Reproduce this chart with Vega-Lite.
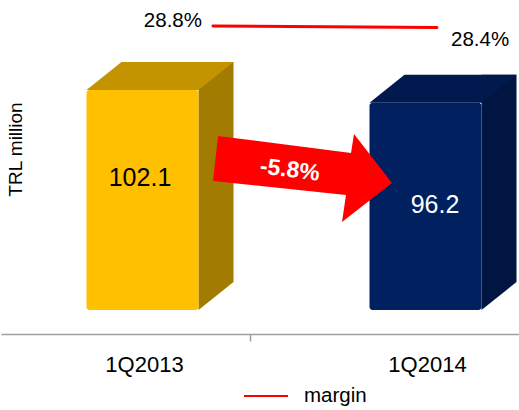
{
  "$schema": "https://vega.github.io/schema/vega-lite/v6.json",
  "width": 519,
  "height": 334,
  "autosize": {"type": "none"},
  "padding": {"left": 0, "top": 0, "right": 0, "bottom": 76},
  "background": "white",
  "config": {"view": {"stroke": null}, "font": "Liberation Sans"},
  "datasets": {
    "revenue": [
      {"quarter": "1Q2013", "revenue": 102.1},
      {"quarter": "1Q2014", "revenue": 96.2}
    ],
    "change": [
      {"quarter": "1Q2013", "revenue": 102.1, "label": "-5.8%"}
    ],
    "margin": [
      {"quarter": "1Q2013", "margin": 0.288, "series": "margin"},
      {"quarter": "1Q2014", "margin": 0.284, "series": "margin"}
    ]
  },
  "layer": [
    {
      "data": {"name": "revenue"},
      "encoding": {
        "x": {
          "field": "quarter", "type": "nominal",
          "scale": {"type": "band", "range": [1, 567], "paddingInner": 0, "paddingOuter": 0},
          "axis": {
            "title": null, "labelAngle": 0, "labelFontSize": 22, "labelColor": "#000000",
            "labelFont": "Liberation Sans", "labelPadding": 13, "labelOffset": -106,
            "tickOffset": 107.5, "tickSize": 7, "tickColor": "#A0A0A0",
            "domainColor": "#A0A0A0", "domainWidth": 1.5, "tickWidth": 1.5
          }
        },
        "y": {
          "field": "revenue", "type": "quantitative",
          "scale": {"domain": [-11.14, 143.87], "nice": false, "zero": false},
          "axis": {
            "title": "TRL million", "labels": false, "ticks": false, "domain": false, "grid": false,
            "titleX": 15, "titleY": 149, "titleAngle": -90, "titleAlign": "center",
            "titleBaseline": "middle", "titleFontSize": 19, "titleFontWeight": "normal",
            "titleColor": "#000000", "titleFont": "Liberation Sans"
          }
        }
      },
      "layer": [
        {
          "mark": {"type": "bar", "width": 35, "xOffset": 73.5, "yOffset": -28, "y2Offset": -28},
          "encoding": {
            "y2": {"datum": 0},
            "color": {"field": "quarter", "type": "nominal", "scale": {"domain": ["1Q2013", "1Q2014"], "range": ["#A27C00", "#00153F"]}, "legend": null}
          }
        },
        {
          "mark": {"type": "point", "shape": "M56,-28L91,-28L56,0Z", "size": 4, "filled": true, "opacity": 1, "strokeWidth": 0},
          "encoding": {
            "y": {"datum": 0, "type": "quantitative"},
            "color": {"field": "quarter", "type": "nominal", "scale": {"domain": ["1Q2013", "1Q2014"], "range": ["#A27C00", "#00153F"]}, "legend": null}
          }
        },
        {
          "mark": {"type": "point", "shape": "M-56,0L-21,-28L91,-28L56,0Z", "size": 4, "filled": true, "opacity": 1, "strokeWidth": 0},
          "encoding": {
            "color": {"field": "quarter", "type": "nominal", "scale": {"domain": ["1Q2013", "1Q2014"], "range": ["#C39400", "#001A50"]}, "legend": null}
          }
        },
        {
          "mark": {"type": "bar", "width": 112, "cornerRadius": 3},
          "encoding": {
            "y2": {"datum": 0},
            "color": {"field": "quarter", "type": "nominal", "scale": {"domain": ["1Q2013", "1Q2014"], "range": ["#FFC000", "#002060"]}, "legend": null}
          }
        },
        {
          "transform": [{"filter": "datum.quarter == '1Q2013'"}],
          "mark": {"type": "text", "fontSize": 25, "color": "#000000", "dx": -2.5, "dy": 88, "baseline": "middle", "align": "center"},
          "encoding": {"text": {"field": "revenue", "type": "quantitative", "format": ".1f"}}
        },
        {
          "transform": [{"filter": "datum.quarter == '1Q2014'"}],
          "mark": {"type": "text", "fontSize": 25, "color": "#FFFFFF", "dx": 9.5, "dy": 102, "baseline": "middle", "align": "center"},
          "encoding": {"text": {"field": "revenue", "type": "quantitative", "format": ".1f"}}
        },
        {
          "data": {"name": "change"},
          "mark": {"type": "point", "shape": "M75.5,46L208.5,63L211.5,44L249.5,93L199.5,132L203.5,105L70.5,91Z", "size": 4, "filled": true, "opacity": 1, "strokeWidth": 0, "color": "#FF0000"},
          "encoding": {}
        },
        {
          "data": {"name": "change"},
          "mark": {"type": "text", "fontSize": 23, "fontWeight": "bold", "color": "#FFFFFF", "dx": 156, "dy": 61.5, "angle": 7, "baseline": "middle", "align": "center"},
          "encoding": {"text": {"field": "label", "type": "nominal"}}
        }
      ],
      "resolve": {"scale": {"color": "independent"}}
    },
    {
      "data": {"name": "margin"},
      "encoding": {
        "x": {"field": "quarter", "type": "nominal", "scale": {"type": "point", "range": [213, 437], "padding": 0}, "axis": null},
        "y": {"field": "margin", "type": "quantitative", "scale": {"domain": [0.2, 0.3], "range": [59, 21.5], "nice": false, "zero": false}, "axis": null}
      },
      "layer": [
        {
          "mark": {"type": "line", "strokeWidth": 3, "strokeCap": "round"},
          "encoding": {
            "color": {
              "field": "series", "type": "nominal",
              "scale": {"domain": ["margin"], "range": ["#FF0000"]},
              "legend": {
                "orient": "none", "legendX": 243, "legendY": 373, "title": null,
                "symbolType": "stroke", "symbolSize": 1936, "symbolStrokeWidth": 2,
                "labelFontSize": 20.5, "labelFont": "Liberation Sans", "labelColor": "#000000",
                "labelOffset": 15, "padding": 0
              }
            }
          }
        },
        {
          "transform": [{"filter": "datum.quarter == '1Q2013'"}],
          "mark": {"type": "text", "fontSize": 20.5, "color": "#000000", "align": "right", "baseline": "middle", "dx": -11, "dy": -5},
          "encoding": {"text": {"field": "margin", "type": "quantitative", "format": ".1%"}}
        },
        {
          "transform": [{"filter": "datum.quarter == '1Q2014'"}],
          "mark": {"type": "text", "fontSize": 20.5, "color": "#000000", "align": "left", "baseline": "middle", "dx": 14, "dy": 12.5},
          "encoding": {"text": {"field": "margin", "type": "quantitative", "format": ".1%"}}
        }
      ]
    }
  ],
  "resolve": {"scale": {"x": "independent", "y": "independent", "color": "independent"}}
}
